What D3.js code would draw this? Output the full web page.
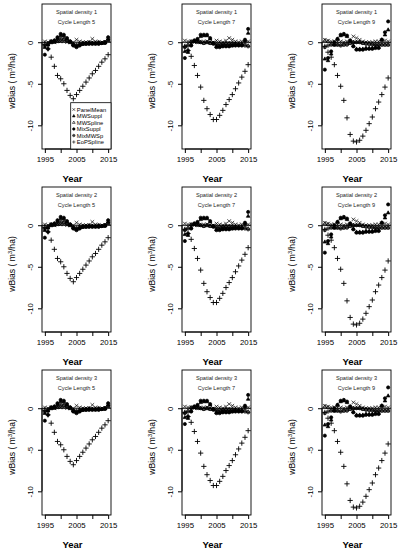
<!DOCTYPE html>
<html><head><meta charset="utf-8">
<script src="https://cdn.jsdelivr.net/npm/d3@7"></script>
<style>html,body{margin:0;padding:0;background:#fff;}svg{display:block;font-family:"Liberation Sans",Arial,sans-serif;}</style>
</head><body>
<svg id="chart" width="398" height="550"></svg>
<script>
const years = [1995,1996,1997,1998,1999,2000,2001,2002,2003,2004,2005,2006,2007,2008,2009,2010,2011,2012,2013,2014,2015];
const densities = [1, 2, 3];
const cycleLengths = [5, 7, 9];
const seriesNames = ["PanelMean","MWSuppl","MWSpline","MixSuppl","MixMWSp","EoPSpline"];
const xTicks = [1995, 2000, 2005, 2010, 2015];
const xTickLabels = ["1995", "", "2005", "", "2015"];
const yTicks = [0, -5, -10];
const yTickLabels = ["0", "-5", "-10"];

// Cycle length 5
const panelMean5 = [0.1,0.0,0.1,0.0,0.2,0.1,0.1,0.0,0.0,0.0,0.3,0.1,0.0,0.0,0.0,0.4,0.1,0.0,0.0,0.0,0.2];
const mwSuppl5   = [-0.6,-0.3,0.0,0.2,0.5,0.8,0.8,0.4,0.1,-0.3,-0.5,-0.3,-0.2,-0.2,-0.1,-0.1,-0.1,-0.1,-0.1,0.0,0.4];
const mwSpline5  = [-0.2,-0.1,0.1,0.0,0.1,0.2,0.3,0.2,0.0,-0.2,-0.3,-0.2,-0.1,-0.1,0.0,-0.1,-0.1,0.0,-0.1,0.0,0.2];
const mixSuppl5  = [-1.5,-0.8,0.1,0.2,0.6,1.0,0.9,0.5,0.1,-0.4,-0.6,-0.4,-0.2,-0.2,-0.2,-0.2,-0.2,-0.2,-0.1,-0.1,0.6];
const mixMWSp5   = [-0.4,-0.3,0.0,0.1,0.2,0.4,0.4,0.2,0.0,-0.3,-0.4,-0.3,-0.2,-0.1,-0.1,-0.1,-0.1,-0.1,-0.1,0.0,0.3];
const eopSpline5 = [-0.3,-0.8,-1.8,-2.9,-4.0,-4.4,-5.0,-5.8,-6.4,-6.8,-6.3,-5.8,-5.3,-4.8,-4.3,-3.8,-3.4,-2.9,-2.4,-2.0,-1.5];

// Cycle length 7
const panelMean7 = [0.2,0.1,0.1,0.0,0.1,0.0,0.1,0.1,0.0,0.0,0.2,0.1,0.0,0.2,0.5,0.3,0.1,0.0,0.1,0.0,0.1];
const mwSuppl7   = [-1.1,-1.2,-0.3,0.1,0.3,0.7,0.8,0.8,0.4,-0.1,-0.5,-0.5,-0.4,-0.4,-0.4,-0.4,-0.3,-0.3,-0.3,0.2,1.1];
const mwSpline7  = [-0.5,-0.3,0.1,0.1,0.0,0.0,-0.1,0.0,-0.1,-0.1,-0.2,-0.2,-0.2,-0.1,-0.1,-0.1,-0.2,-0.2,-0.2,-0.3,-0.4];
const mixSuppl7  = [-1.9,-1.0,-0.4,0.2,0.4,0.9,0.9,0.9,0.5,-0.1,-0.6,-0.6,-0.5,-0.5,-0.5,-0.4,-0.4,-0.4,-0.4,0.3,1.6];
const mixMWSp7   = [-0.6,-0.4,0.0,0.2,0.1,0.0,-0.1,0.0,-0.1,-0.2,-0.3,-0.3,-0.2,-0.2,-0.2,-0.2,-0.2,-0.3,-0.3,-0.4,-0.5];
const eopSpline7 = [-0.5,-1.0,-1.7,-2.8,-4.0,-5.4,-7.0,-8.0,-8.7,-9.3,-9.3,-8.8,-8.2,-7.5,-6.9,-6.3,-5.6,-4.9,-4.2,-3.5,-2.7];

// Cycle length 9
const panelMean9 = [0.3,0.2,0.1,0.1,0.1,0.1,0.0,0.1,0.2,0.7,0.5,0.3,0.1,0.0,0.0,0.0,0.1,0.1,0.2,0.2,0.1];
const mwSuppl9   = [-2.0,-2.2,-1.4,-0.3,0.4,0.8,0.9,0.7,0.2,-0.4,-0.8,-0.8,-0.8,-0.7,-0.7,-0.7,-0.6,-0.6,0.3,0.9,1.5];
const mwSpline9  = [0.2,0.1,-0.2,-0.3,-0.3,-0.3,-0.3,-0.2,-0.1,0.0,0.0,0.0,-0.1,-0.1,-0.2,-0.2,-0.3,-0.3,-0.3,-0.3,-0.3];
const mixSuppl9  = [-3.3,-1.9,-1.1,0.0,0.4,0.9,1.0,0.8,0.2,-0.5,-0.9,-0.9,-0.9,-0.8,-0.8,-0.8,-0.7,-0.7,0.3,1.2,2.5];
const mixMWSp9   = [-0.6,-0.4,-0.3,-0.3,-0.3,-0.4,-0.3,-0.3,-0.1,0.0,0.0,0.0,-0.1,-0.2,-0.2,-0.3,-0.3,-0.3,-0.3,-0.3,-0.3];
const eopSpline9 = [-0.5,-1.2,-1.8,-2.7,-4.0,-5.3,-7.0,-9.1,-11.1,-11.9,-12.0,-11.8,-11.3,-10.6,-9.8,-9.0,-8.0,-7.2,-6.3,-5.4,-4.3];

const dataByCycle = {
  5: [panelMean5, mwSuppl5, mwSpline5, mixSuppl5, mixMWSp5, eopSpline5],
  7: [panelMean7, mwSuppl7, mwSpline7, mixSuppl7, mixMWSp7, eopSpline7],
  9: [panelMean9, mwSuppl9, mwSpline9, mixSuppl9, mixMWSp9, eopSpline9]
};

// symbol path generators (R pch 4, 17, 2, 16, 10, 3)
function symPath(type, s) {
  const h = s / 2;
  switch (type) {
    case 0: return `M${-h},${-h}L${h},${h}M${-h},${h}L${h},${-h}`;
    case 1: case 2: return `M0,${-h*1.15}L${h*1.05},${h*0.7}L${-h*1.05},${h*0.7}Z`;
    case 3: return d3.arc()({innerRadius:0, outerRadius:h*0.95, startAngle:0, endAngle:2*Math.PI});
    case 4: return d3.arc()({innerRadius:0, outerRadius:h*0.95, startAngle:0, endAngle:2*Math.PI}) + `M${-h*0.95},0L${h*0.95},0M0,${-h*0.95}L0,${h*0.95}`;
    case 5: { const k = h*1.25; return `M${-k},0L${k},0M0,${-k}L0,${k}`; }
  }
}
function symFill(type) { return (type === 1 || type === 3) ? "#000" : "none"; }

const svg = d3.select("#chart");
const colX = [42, 182, 322], rowY = [4, 187, 370];
const pw = 69, ph = 145;

densities.forEach((dens, r) => {
  cycleLengths.forEach((cyc, c) => {
    const x0 = colX[c], y0 = rowY[r];
    const x = d3.scaleLinear().domain([1994.1, 2015.9]).range([x0, x0 + pw]);
    const y = d3.scaleLinear().domain([-12.85, 4.6]).range([y0 + ph, y0]);
    const g = svg.append("g");

    // x axis
    const xa = g.append("g").attr("transform", `translate(0,${y0 + ph})`)
      .call(d3.axisBottom(x).tickValues(xTicks).tickFormat((d, i) => xTickLabels[i]).tickSize(4).tickPadding(3));
    xa.select(".domain").attr("d", `M${x(xTicks[0])},0H${x(xTicks[xTicks.length-1])}`).attr("stroke", "#000");
    xa.selectAll("text").attr("font-size", 7.8).attr("fill", "#000").attr("font-family", "Liberation Sans, Arial, sans-serif");
    xa.selectAll("line").attr("stroke", "#000");

    // y axis
    const ya = g.append("g").attr("transform", `translate(${x0},0)`)
      .call(d3.axisLeft(y).tickValues(yTicks).tickFormat((d, i) => yTickLabels[i]).tickSize(4).tickPadding(3));
    ya.select(".domain").attr("d", `M0,${y(yTicks[0])}V${y(yTicks[yTicks.length-1])}`).attr("stroke", "#000");
    ya.selectAll("line").attr("stroke", "#000");
    ya.selectAll(".tick text").attr("font-size", 7.8).attr("fill", "#000")
      .attr("font-family", "Liberation Sans, Arial, sans-serif")
      .attr("x", null).attr("dy", null)
      .attr("text-anchor", "middle")
      .attr("transform", "translate(-9,0) rotate(-90)")
      .attr("dy", "0em");

    // box
    g.append("rect").attr("x", x0).attr("y", y0).attr("width", pw).attr("height", ph)
      .attr("fill", "none").attr("stroke", "#000").attr("stroke-width", 0.9);

    // zero line
    g.append("line").attr("x1", x0).attr("x2", x0 + pw).attr("y1", y(0)).attr("y2", y(0))
      .attr("stroke", "#000").attr("stroke-width", 1);

    // titles
    g.append("text").attr("x", x0 + pw / 2).attr("y", y0 + 10).attr("text-anchor", "middle")
      .attr("font-size", 5.6).attr("fill", "#222").text("Spatial density " + dens);
    g.append("text").attr("x", x0 + pw / 2).attr("y", y0 + 20).attr("text-anchor", "middle")
      .attr("font-size", 5.6).attr("fill", "#222").text("Cycle Length " + cyc);

    // axis titles
    g.append("text").attr("x", x0 + pw / 2 - 4).attr("y", y0 + 178).attr("text-anchor", "middle")
      .attr("font-size", 9.5).attr("font-weight", "bold").attr("fill", "#000").text("Year");
    const yl = g.append("text").attr("transform", `translate(${x0 - 27},${y0 + 77}) rotate(-90)`)
      .attr("text-anchor", "middle").attr("font-size", 8.6).attr("fill", "#000");
    yl.append("tspan").text("wBias ( m");
    yl.append("tspan").attr("font-size", 5.5).attr("dy", -3.5).text("3");
    yl.append("tspan").attr("dy", 3.5).text("/ha)");

    // points
    const series = dataByCycle[cyc];
    series.forEach((vals, si) => {
      const size = si === 5 ? 4.2 : (si === 0 ? 3.6 : 3.4);
      g.append("g").selectAll("path").data(vals).join("path")
        .attr("transform", (v, i) => `translate(${x(years[i])},${y(v)})`)
        .attr("d", symPath(si, size))
        .attr("fill", symFill(si))
        .attr("stroke", "#000").attr("stroke-width", si === 5 ? 0.9 : 0.7);
    });

    // legend only in first panel
    if (r === 0 && c === 0) {
      const lx = 70.7, ly = 102.7, lw = x0 + pw - lx, lh = y0 + ph - ly;
      const lg = g.append("g");
      lg.append("rect").attr("x", lx).attr("y", ly).attr("width", lw).attr("height", lh)
        .attr("fill", "#fff").attr("stroke", "#000").attr("stroke-width", 0.8);
      seriesNames.forEach((name, si) => {
        const cy = 109.5 + si * 6.5;
        lg.append("path").attr("transform", `translate(73.8,${cy})`)
          .attr("d", symPath(si, 2.6)).attr("fill", symFill(si))
          .attr("stroke", "#000").attr("stroke-width", 0.6);
        lg.append("text").attr("x", 76.8).attr("y", cy + 2).attr("font-size", 5.8)
          .attr("fill", "#000").text(name);
      });
    }
  });
});
</script>
</body></html>
